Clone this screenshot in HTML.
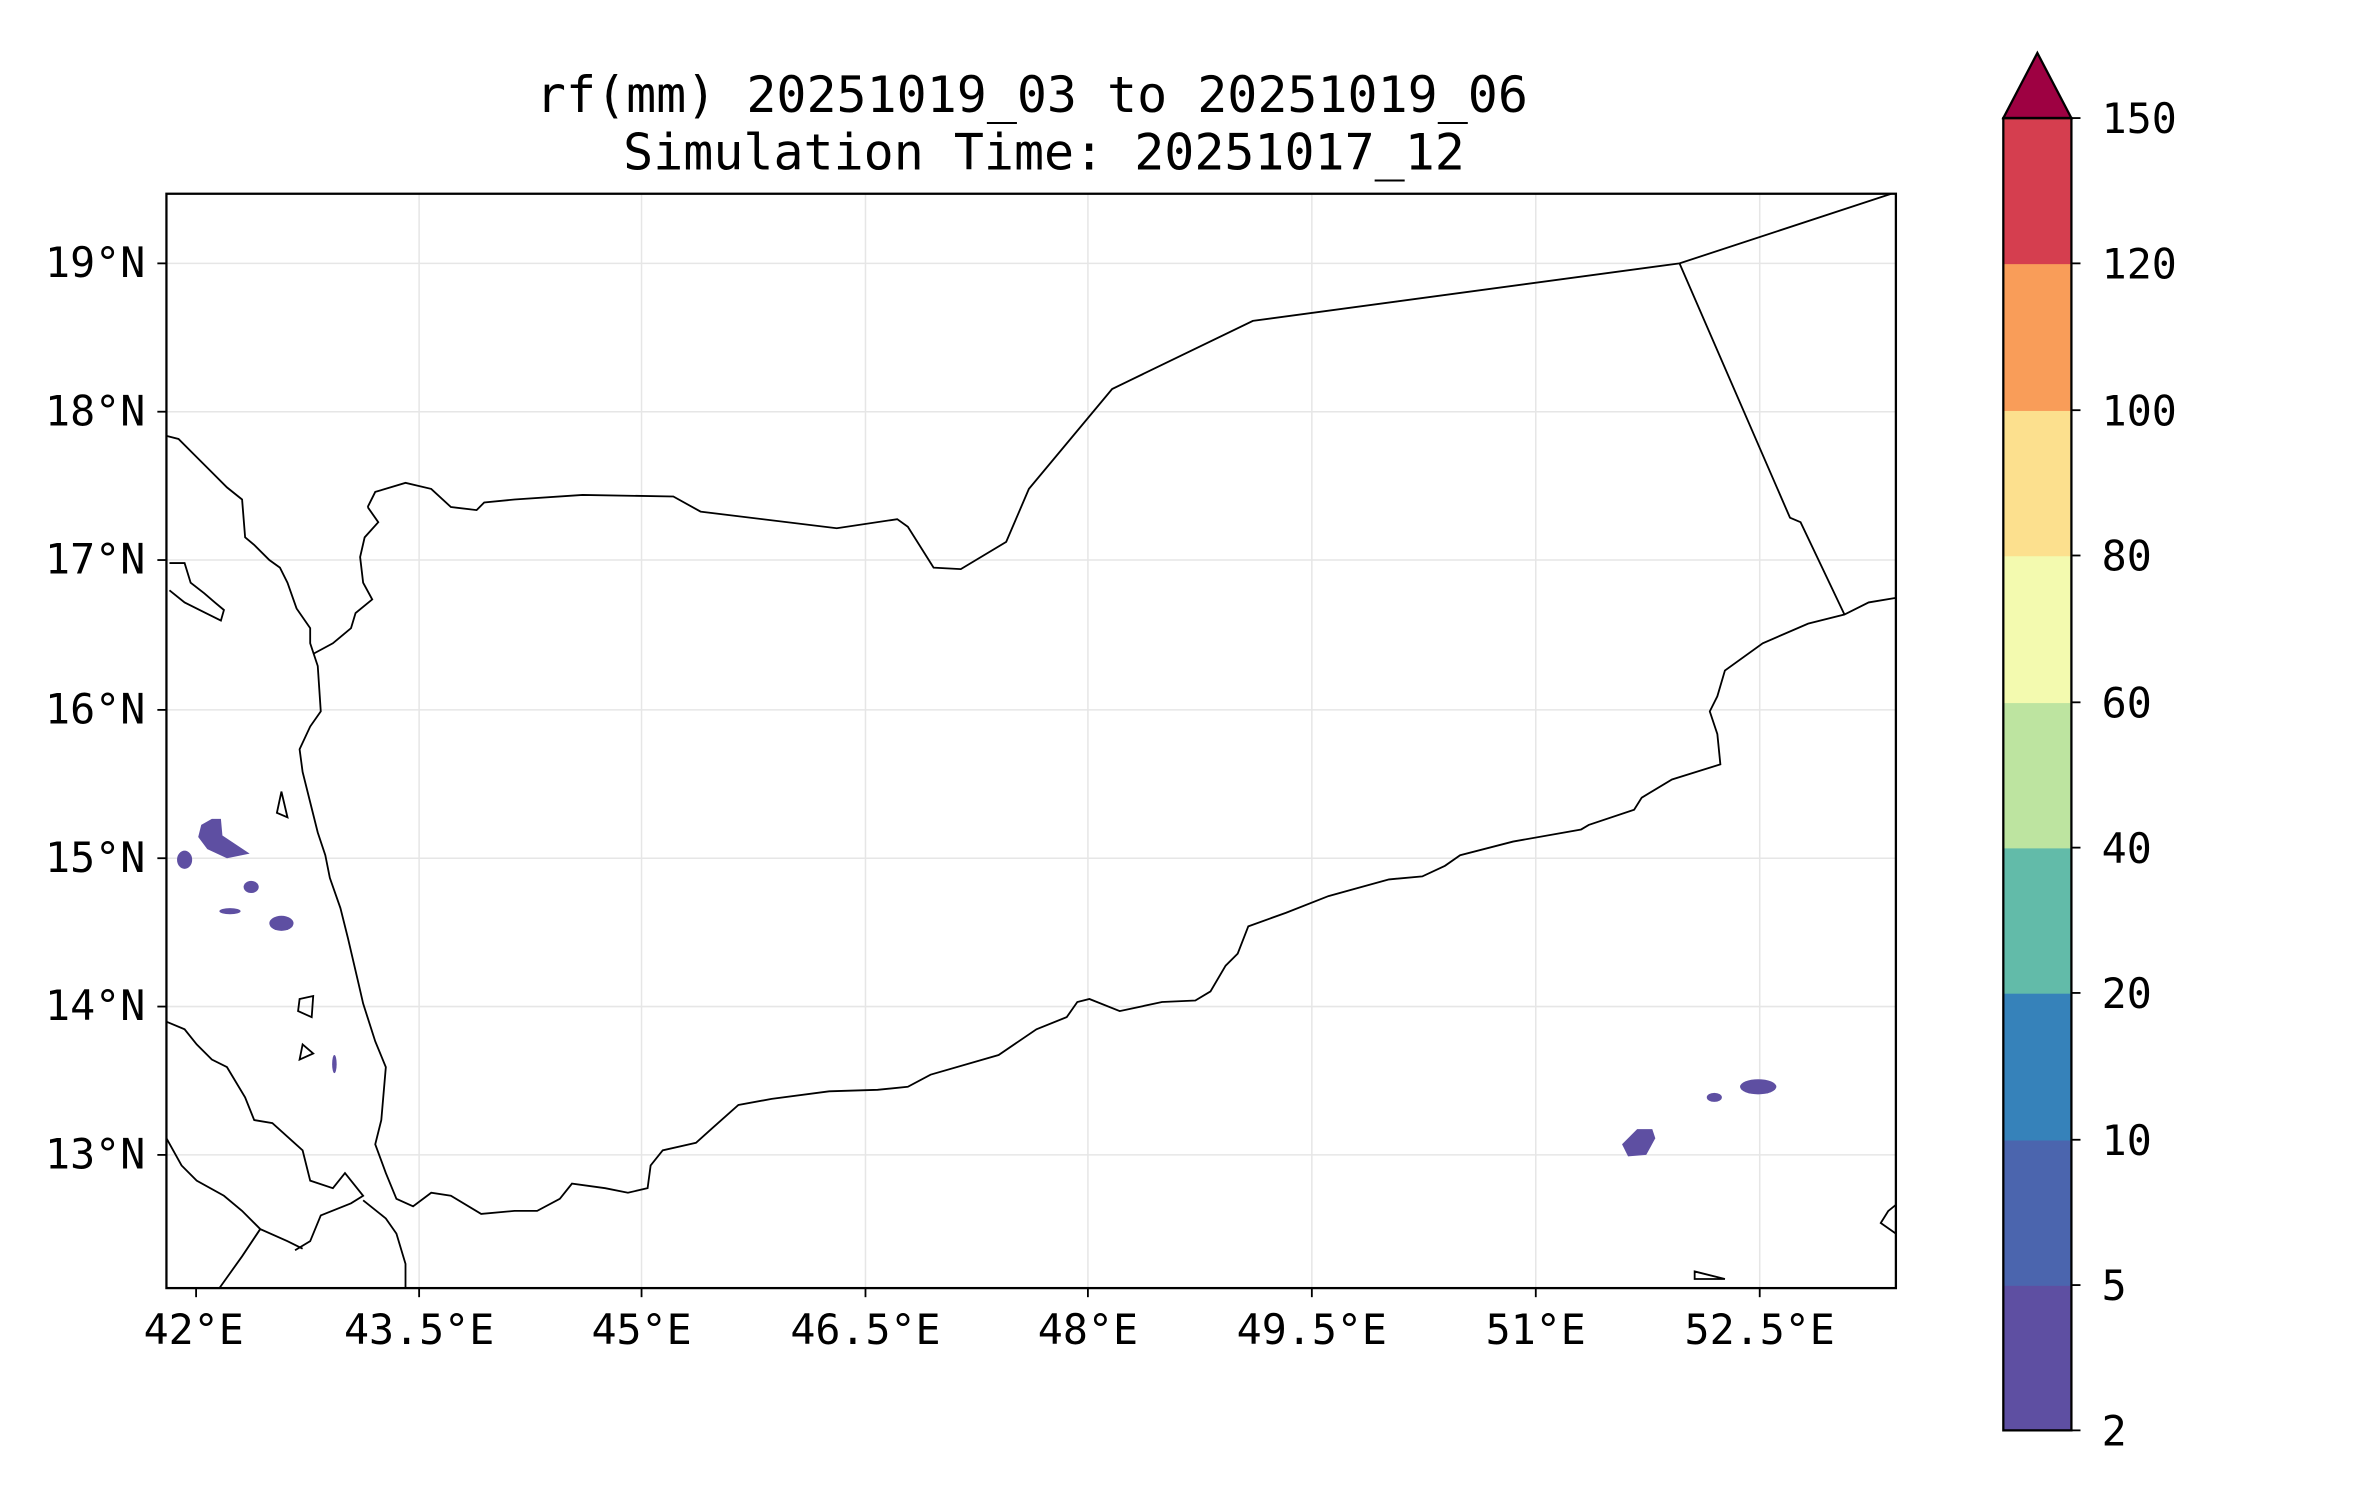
<!DOCTYPE html>
<html><head><meta charset="utf-8"><style>
html,body{margin:0;padding:0;background:#fff;}
svg{display:block;}
text{font-family:"DejaVu Sans Mono","Liberation Mono",monospace;fill:#000;}
</style></head><body>
<svg width="2371" height="1500" viewBox="0 0 1567 991" preserveAspectRatio="none" xmlns="http://www.w3.org/2000/svg">
<rect width="1567" height="991" fill="#fff"/>
<text x="682" y="74" font-size="33" text-anchor="middle">rf(mm) 20251019_03 to 20251019_06</text>
<text x="690" y="112" font-size="33" text-anchor="middle">Simulation Time: 20251017_12</text>
<g stroke="#e6e6e6" stroke-width="1">
<line x1="277" y1="128" x2="277" y2="851"/><line x1="424" y1="128" x2="424" y2="851"/><line x1="572" y1="128" x2="572" y2="851"/><line x1="719" y1="128" x2="719" y2="851"/><line x1="867" y1="128" x2="867" y2="851"/><line x1="1015" y1="128" x2="1015" y2="851"/><line x1="1163" y1="128" x2="1163" y2="851"/>
<line x1="110" y1="174" x2="1253" y2="174"/><line x1="110" y1="272" x2="1253" y2="272"/><line x1="110" y1="370" x2="1253" y2="370"/><line x1="110" y1="469" x2="1253" y2="469"/><line x1="110" y1="567" x2="1253" y2="567"/><line x1="110" y1="665" x2="1253" y2="665"/><line x1="110" y1="763" x2="1253" y2="763"/>
</g>
<g fill="#5e4fa2">
<path d="M140,541 L146,541 147,552 165,564 150,567 137,561 131,553 133,545Z"/>
<ellipse cx="122" cy="568" rx="5" ry="6"/>
<ellipse cx="166" cy="586" rx="5" ry="4"/>
<ellipse cx="152" cy="602" rx="7" ry="2"/>
<ellipse cx="186" cy="610" rx="8" ry="5"/>
<ellipse cx="221" cy="703" rx="1.5" ry="6"/>
<path d="M1072,756 L1082,746 1092,746 1094,752 1088,763 1076,764Z"/>
<ellipse cx="1133" cy="725" rx="5" ry="3"/>
<ellipse cx="1162" cy="718" rx="12" ry="5"/>
</g>
<g fill="none" stroke="#000" stroke-width="1.2">
<polyline points="243,335 248,325 268,319 285,323 298,335 315,337 320,332 340,330 385,327 445,328 463,338 553,349 593,343 600,348 617,375 635,376 665,358 680,323 735,257 828,212 1110,174 1250,128"/>
<polyline points="1110,174 1183,342 1190,345 1219,406"/>
<polyline points="1253,395 1235,398 1219,406 1195,412 1165,425 1140,443 1135,460 1130,470 1135,485 1137,505 1105,515 1085,527 1080,535 1050,545 1045,548 1000,556 965,565 955,572 940,579 918,581 878,592 850,603 825,612 818,630 810,638 800,655 790,661 768,662 740,668 720,660 712,662 705,672 685,680 660,697 615,710 600,718 580,720 548,721 510,726 488,730 470,746 460,755 438,760 430,770 428,785 415,788 400,785 378,782 370,792 355,800 340,800 318,802 298,790 285,788 273,797 262,792 255,775 248,756 252,740 255,705 248,688 240,663 237,650 230,620 225,600 218,580 215,565 210,550 205,530 200,510 198,495 205,480 212,470 210,440 205,425 205,415 196,402 190,385 185,375 178,370 168,360 162,355 160,330 150,322 140,312 128,300 118,290 110,288"/>
<polyline points="207,432 220,425 232,415 235,405 246,396 240,385 238,368 241,355 250,345 243,335"/>
<polyline points="110,675 122,680 130,690 140,700 150,705 162,725 168,740 180,742 200,760 205,780 220,785 228,775 240,790 232,795 212,803 205,820 195,826"/>
<polyline points="110,752 120,770 130,780 148,790 160,800 172,812 190,820 200,825"/>
<polyline points="145,851 160,830 172,812"/>
<polyline points="240,793 255,805 262,815 268,835 268,851"/>
<polyline points="112,372 122,372 126,385 135,392 142,398 148,403 146,410 136,405 122,398 112,390"/>
<path d="M186,523 L190,540 183,537Z M198,660 L207,658 206,672 197,668Z M200,690 L207,696 198,700Z M1120,840 L1140,845 1120,845Z M1248,800 L1253,796 1253,815 1243,808Z"/>
</g>
<rect x="110" y="128" width="1143" height="723" fill="none" stroke="#000" stroke-width="1.5"/>
<g stroke="#000" stroke-width="1.2">
<line x1="129.6" y1="851" x2="129.6" y2="857"/><line x1="277" y1="851" x2="277" y2="857"/><line x1="424" y1="851" x2="424" y2="857"/><line x1="572" y1="851" x2="572" y2="857"/><line x1="719" y1="851" x2="719" y2="857"/><line x1="867" y1="851" x2="867" y2="857"/><line x1="1015" y1="851" x2="1015" y2="857"/><line x1="1163" y1="851" x2="1163" y2="857"/>
<line x1="104" y1="174" x2="110" y2="174"/><line x1="104" y1="272" x2="110" y2="272"/><line x1="104" y1="370" x2="110" y2="370"/><line x1="104" y1="469" x2="110" y2="469"/><line x1="104" y1="567" x2="110" y2="567"/><line x1="104" y1="665" x2="110" y2="665"/><line x1="104" y1="763" x2="110" y2="763"/>
</g>
<g font-size="27.5" text-anchor="middle">
<text x="128" y="888">42°E</text><text x="277" y="888">43.5°E</text><text x="424" y="888">45°E</text><text x="572" y="888">46.5°E</text><text x="719" y="888">48°E</text><text x="867" y="888">49.5°E</text><text x="1015" y="888">51°E</text><text x="1163" y="888">52.5°E</text>
</g>
<g font-size="27.5" text-anchor="end">
<text x="96" y="183">19°N</text><text x="96" y="281">18°N</text><text x="96" y="379">17°N</text><text x="96" y="478">16°N</text><text x="96" y="576">15°N</text><text x="96" y="674">14°N</text><text x="96" y="772">13°N</text>
</g>
<rect x="1324" y="849" width="45" height="96" fill="#5e4fa2"/>
<rect x="1324" y="753" width="45" height="96.5" fill="#4b65ae"/>
<rect x="1324" y="656" width="45" height="97.5" fill="#3682ba"/>
<rect x="1324" y="560" width="45" height="96.5" fill="#62bba9"/>
<rect x="1324" y="464" width="45" height="96.5" fill="#bde4a0"/>
<rect x="1324" y="367" width="45" height="97.5" fill="#f3faaf"/>
<rect x="1324" y="271" width="45" height="96.5" fill="#fce08e"/>
<rect x="1324" y="174" width="45" height="97.5" fill="#f99d59"/>
<rect x="1324" y="78" width="45" height="96.5" fill="#d53e4f"/>
<polygon points="1324,78 1346.5,35 1369,78" fill="#9e0142" stroke="#000" stroke-width="1.5"/>
<rect x="1324" y="78" width="45" height="867" fill="none" stroke="#000" stroke-width="1.5"/>
<g stroke="#000" stroke-width="1.2">
<line x1="1369" y1="78" x2="1375" y2="78"/><line x1="1369" y1="174" x2="1375" y2="174"/><line x1="1369" y1="271" x2="1375" y2="271"/><line x1="1369" y1="367" x2="1375" y2="367"/><line x1="1369" y1="464" x2="1375" y2="464"/><line x1="1369" y1="560" x2="1375" y2="560"/><line x1="1369" y1="656" x2="1375" y2="656"/><line x1="1369" y1="753" x2="1375" y2="753"/><line x1="1369" y1="849" x2="1375" y2="849"/><line x1="1369" y1="945" x2="1375" y2="945"/>
</g>
<g font-size="27.5">
<text x="1389" y="88">150</text><text x="1389" y="184">120</text><text x="1389" y="281">100</text><text x="1389" y="377">80</text><text x="1389" y="474">60</text><text x="1389" y="570">40</text><text x="1389" y="666">20</text><text x="1389" y="763">10</text><text x="1389" y="859">5</text><text x="1389" y="955">2</text>
</g>
</svg>
</body></html>
